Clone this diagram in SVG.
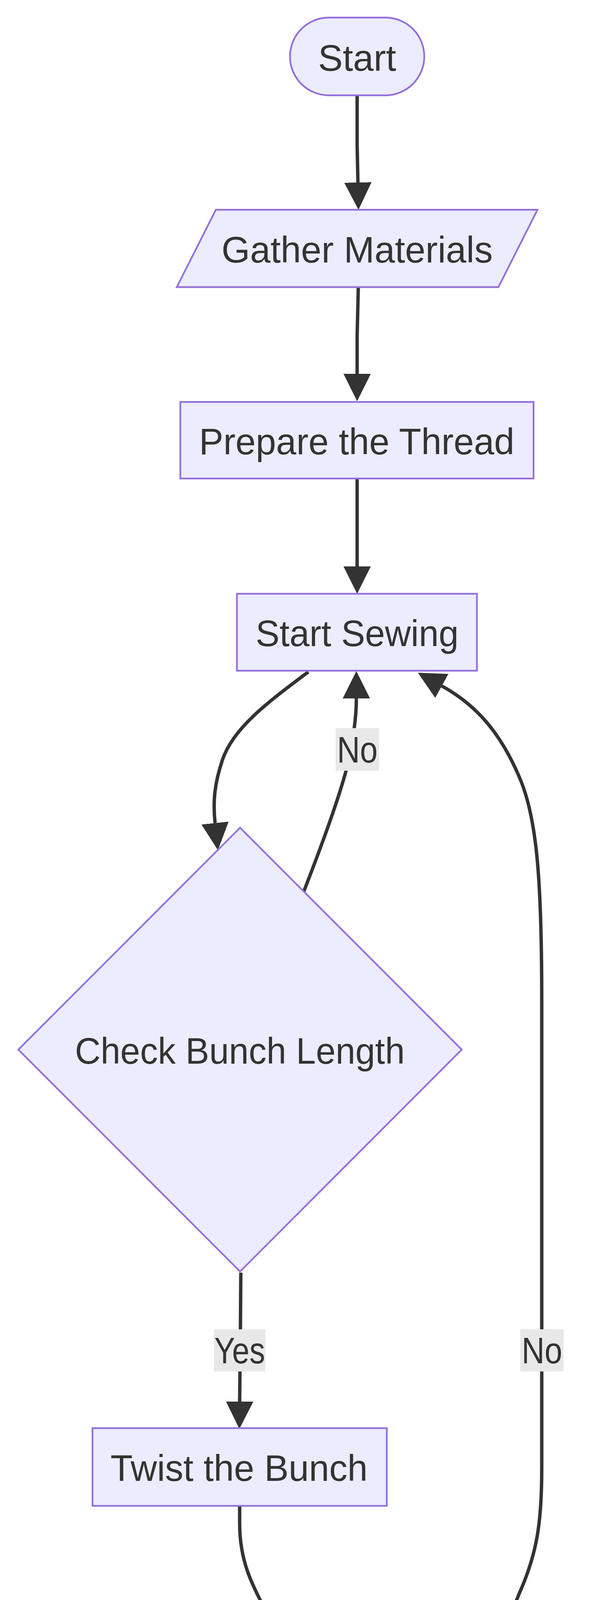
<svg xmlns="http://www.w3.org/2000/svg" width="1568" height="6856" viewBox="0 0 1568 6856">
<defs>
<style>
.node{fill:#ECECFF;stroke:#9370DB;stroke-width:4.4}
.t{font-family:"Trebuchet MS","Liberation Sans",Arial,sans-serif;font-size:95px;fill:#333333;text-anchor:middle}
.e{fill:none;stroke:#333333;stroke-width:8.7}
.lb{fill:#E8E8E8}
</style>
<marker id="arrow" viewBox="0 0 10 10" refX="0" refY="5" markerUnits="userSpaceOnUse" markerWidth="70" markerHeight="70" orient="auto">
<path d="M0,0 L10,5 L0,10 z" fill="#333333"/>
</marker>
</defs>
<rect width="1568" height="6856" fill="#ffffff"/>
<g id="edges">
<path class="e" marker-end="url(#arrow)" d="M915,244 L915,370 L917,467"/>
<path class="e" marker-end="url(#arrow)" d="M918,735 L915,860 L915,957"/>
<path class="e" marker-end="url(#arrow)" d="M915,1225 L915,1450"/>
<path class="e" marker-end="url(#arrow)" d="M790,1720 C690,1795 598,1862 570,1945 C550,2005 545,2050 551,2107"/>
<path class="e" marker-end="url(#arrow)" d="M778,2283 C820,2175 870,2040 890,1960 C905,1890 913,1840 913,1788"/>
<path class="e" marker-end="url(#arrow)" d="M1192,4338 C1250,4240 1300,4160 1330,4080 C1375,3980 1388,3900 1388,3760 L1388,2560 C1388,2250 1375,2100 1335,2000 C1290,1890 1230,1810 1132,1756"/>
<path class="e" marker-end="url(#arrow)" d="M617,3258 L616,3400 L614,3588"/>
<path class="e" marker-end="url(#arrow)" d="M614,3855 L614,3900 C614,3990 640,4050 690,4140 C725,4205 760,4255 779,4281"/>
<path class="e" marker-end="url(#arrow)" d="M1004,5159 L1002,5304 L1001,5488"/>
<path class="e" marker-end="url(#arrow)" d="M1001,5756 L1001,5888 L1003,5978"/>
<path class="e" marker-end="url(#arrow)" d="M1004,6246 L1002,6360 L1001,6470"/>
</g>
<g id="edge-labels">
<g id="label-no-1"><rect class="lb" x="860" y="1864" width="111" height="109"/><text class="t" x="915.5" y="1952" textLength="104" lengthAdjust="spacingAndGlyphs">No</text></g>
<g id="label-yes-1"><rect class="lb" x="548" y="3403" width="132" height="108"/><text class="t" x="614" y="3490" textLength="130" lengthAdjust="spacingAndGlyphs">Yes</text></g>
<g id="label-no-2"><rect class="lb" x="1333" y="3403" width="111" height="108"/><text class="t" x="1388.5" y="3490" textLength="104" lengthAdjust="spacingAndGlyphs">No</text></g>
<g id="label-yes-2"><rect class="lb" x="935" y="5304" width="132" height="108"/><text class="t" x="1001" y="5391" textLength="130" lengthAdjust="spacingAndGlyphs">Yes</text></g>
</g>
<g id="start"><rect class="node" x="743" y="45" width="344" height="199" rx="99.5" ry="99.5"/><text class="t" x="915" y="181" textLength="200" lengthAdjust="spacingAndGlyphs">Start</text></g>
<g id="gather"><polygon class="node" points="553,537 1377,537 1277,735 453,735"/><text class="t" x="915" y="672" textLength="695" lengthAdjust="spacingAndGlyphs">Gather Materials</text></g>
<g id="prepare"><rect class="node" x="462" y="1029" width="905" height="196"/><text class="t" x="914" y="1163" textLength="808" lengthAdjust="spacingAndGlyphs">Prepare the Thread</text></g>
<g id="sewing"><rect class="node" x="607" y="1520" width="615" height="197"/><text class="t" x="915" y="1654" textLength="520" lengthAdjust="spacingAndGlyphs">Start Sewing</text></g>
<g id="checkBunch"><polygon class="node" points="615,2119 1183,2687 615,3255 47,2687"/><text class="t" x="614.5" y="2723" textLength="845" lengthAdjust="spacingAndGlyphs">Check Bunch Length</text></g>
<g id="twist"><rect class="node" x="237" y="3656" width="754" height="199"/><text class="t" x="612.5" y="3791" textLength="659" lengthAdjust="spacingAndGlyphs">Twist the Bunch</text></g>
<g id="checkLei"><polygon class="node" points="1001,4148 1505,4652 1001,5156 497,4652"/><text class="t" x="1001.5" y="4688" textLength="717" lengthAdjust="spacingAndGlyphs">Check Lei Length</text></g>
<g id="finish"><rect class="node" x="674" y="5558" width="655" height="198"/><text class="t" x="1002" y="5693" textLength="560" lengthAdjust="spacingAndGlyphs">Finish the Lei</text></g>
<g id="completed"><polygon class="node" points="684,6048 1418,6048 1318,6246 585,6246" /><text class="t" x="1001.5" y="6183" textLength="607" lengthAdjust="spacingAndGlyphs">Completed Lei</text></g>
<g id="end"><rect class="node" x="855" y="6540" width="292" height="196" rx="98" ry="98"/><text class="t" x="1001.5" y="6674" textLength="147" lengthAdjust="spacingAndGlyphs">End</text></g>
</svg>
